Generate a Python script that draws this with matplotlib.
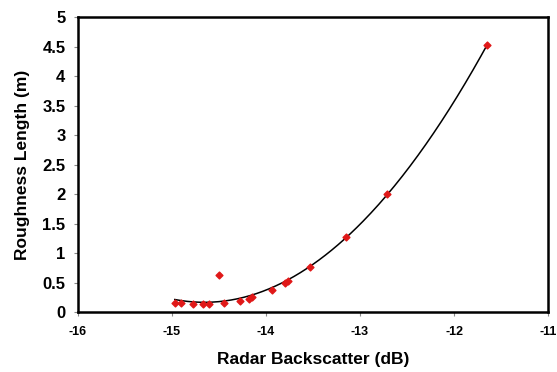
import numpy as np
import matplotlib
matplotlib.use("Agg")
import matplotlib.pyplot as plt

plt.rcParams['font.family'] = ['Liberation Sans', 'DejaVu Sans']
plt.rcParams['font.weight'] = 'bold'

# radar backscatter (dB) vs roughness length (m)
backscatter = [-14.97, -14.90, -14.78, -14.67, -14.61, -14.50, -14.45, -14.28,
               -14.18, -14.15, -13.94, -13.80, -13.77, -13.53, -13.15, -12.71, -11.65]
roughness = [0.16, 0.15, 0.13, 0.13, 0.13, 0.63, 0.15, 0.19,
             0.23, 0.25, 0.38, 0.50, 0.52, 0.76, 1.27, 2.00, 4.53]

x_ticks = [-16, -15, -14, -13, -12, -11]
y_ticks = [0, 0.5, 1, 1.5, 2, 2.5, 3, 3.5, 4, 4.5, 5]

fig = plt.figure(figsize=(5.57, 3.72), dpi=100)
ax = fig.add_axes([0.140, 0.161, 0.844, 0.793])

# polynomial trendline (order 2), like the spreadsheet one
coef = np.polyfit(backscatter, roughness, 2)
xs = np.linspace(min(backscatter), max(backscatter), 200)
ax.plot(xs, np.polyval(coef, xs), color='black', lw=1.1, zorder=2)

ax.scatter(backscatter, roughness, marker='D', s=12, color='#e01818',
           edgecolors='#e01818', zorder=3)

ax.set_xlim(-16, -11)
ax.set_ylim(0, 5)
ax.set_xticks(x_ticks)
ax.set_yticks(y_ticks)
ax.set_xticklabels([str(t) for t in x_ticks], fontsize=9, fontweight='bold')
ax.set_yticklabels([('%g' % t) for t in y_ticks], fontsize=12, fontweight='bold')
ax.tick_params(direction='out', length=3, width=0.8, color='#888888')
ax.tick_params(axis='x', pad=7)
ax.tick_params(axis='y', pad=6)
for s in ax.spines.values():
    s.set_linewidth(1.8)

ax.set_xlabel('Radar Backscatter (dB)', fontsize=12.5, fontweight='bold', labelpad=10)
ax.set_ylabel('Roughness Length (m)', fontsize=12.5, fontweight='bold', labelpad=9)

fig.savefig('out.png', dpi=100)
